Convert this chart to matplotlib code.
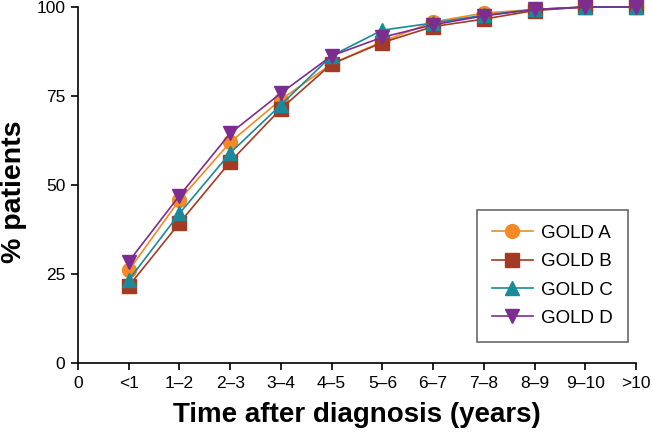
import matplotlib
matplotlib.use("Agg")
import matplotlib.pyplot as plt

plt.rcParams['font.family'] = ['Liberation Sans', 'DejaVu Sans']

# categories and values
categories = ["<1", "1–2", "2–3", "3–4", "4–5", "5–6", "6–7", "7–8", "8–9", "9–10", ">10"]
gold_a = [26.0, 45.8, 62.0, 74.0, 84.0, 90.3, 95.8, 98.3, 99.3, 100, 100]
gold_b = [21.6, 39.3, 56.5, 71.4, 84.0, 90.0, 94.5, 96.6, 99.0, 100, 100]
gold_c = [23.3, 42.0, 59.0, 72.5, 86.3, 93.5, 95.5, 97.7, 99.3, 100, 100]
gold_d = [28.5, 47.0, 64.5, 75.8, 86.3, 91.5, 95.0, 97.5, 99.3, 100, 100]

series = [
    ("GOLD A", gold_a, "#F28A26", "o"),
    ("GOLD B", gold_b, "#A33A24", "s"),
    ("GOLD C", gold_c, "#1A8A9B", "^"),
    ("GOLD D", gold_d, "#7D2C91", "v"),
]

fig = plt.figure(figsize=(6.52, 4.37), dpi=100)
ax = fig.add_axes([0.1196, 0.1693, 0.8559, 0.8147])

x = list(range(1, len(categories) + 1))
for label, vals, color, marker in series:
    ax.plot(x, vals, color=color, marker=marker, markersize=10, linewidth=1.2,
            label=label, clip_on=False)

ax.set_xlim(0, 11)
ax.set_ylim(0, 100)
ax.set_xticks([0] + x)
ax.set_xticklabels(["0"] + categories)
ax.set_yticks([0, 25, 50, 75, 100])

for side in ["top", "right"]:
    ax.spines[side].set_visible(False)
for side in ["left", "bottom"]:
    ax.spines[side].set_linewidth(1.2)
ax.tick_params(direction="out", length=5, width=1.2, labelsize=12.5, pad=4)

bold_font = ['Liberation Sans Narrow', 'Liberation Sans']
ax.set_xlabel("Time after diagnosis (years)", fontsize=20, fontweight="bold",
              family=bold_font, labelpad=8)
ax.set_ylabel("% patients", fontsize=20.5, fontweight="bold", family=bold_font)
ax.yaxis.set_label_coords(-0.092, 0.48)

leg = ax.legend(loc="lower right", bbox_to_anchor=(0.9857, 0.059), borderaxespad=0,
                fontsize=13.5, frameon=True, fancybox=False, edgecolor="#444444",
                handlelength=2.2, handletextpad=0.45, borderpad=0.8, labelspacing=0.6)
leg.get_frame().set_linewidth(1.2)

fig.savefig("out.png", dpi=100)
